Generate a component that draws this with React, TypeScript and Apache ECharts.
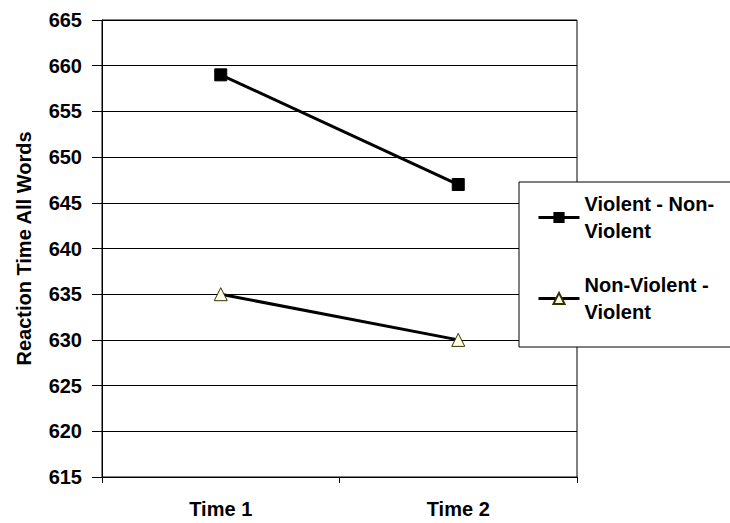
import React, { useEffect, useRef } from "react";
import * as echarts from "echarts";

const categories = ["Time 1", "Time 2"];
const seriesNames = ["Violent - Non-Violent", "Non-Violent - Violent"];
const violentNonViolent = [659, 647];
const nonViolentViolent = [635, 630];
const yMin = 615;
const yMax = 665;
const yInterval = 5;
const yAxisTitle = "Reaction Time All Words";
const legendLabels: Record<string, string> = {
  "Violent - Non-Violent": "Violent - Non-\nViolent",
  "Non-Violent - Violent": "Non-Violent -\nViolent",
};

const FONT = "'Liberation Sans', Arial, sans-serif";
const FS = 20;

export default function App() {
  const ref = useRef<HTMLDivElement>(null);
  useEffect(() => {
    if (!ref.current) return;
    const chart = echarts.init(ref.current, null, { renderer: "svg" });
    chart.setOption({
      animation: false,
      backgroundColor: "#ffffff",
      textStyle: { fontFamily: FONT },
      grid: {
        left: 102,
        right: 153,
        top: 20,
        bottom: 46,
        show: true,
        borderColor: "#000000",
        borderWidth: 1,
        backgroundColor: "transparent",
      },
      xAxis: {
        type: "category",
        data: categories,
        boundaryGap: true,
        axisLine: { lineStyle: { color: "#000000", width: 1 } },
        axisTick: { show: true, length: 6, inside: false, lineStyle: { color: "#000000" } },
        axisLabel: {
          color: "#000000",
          fontSize: FS,
          fontWeight: "bold",
          fontFamily: FONT,
          margin: 22,
        },
        splitLine: { show: false },
      },
      yAxis: {
        type: "value",
        min: yMin,
        max: yMax,
        interval: yInterval,
        name: yAxisTitle,
        nameLocation: "middle",
        nameGap: 68,
        nameTextStyle: {
          color: "#000000",
          fontSize: FS,
          fontWeight: "bold",
          fontFamily: FONT,
        },
        axisLine: { show: true, lineStyle: { color: "#000000", width: 1 } },
        axisTick: { show: true, length: 10, lineStyle: { color: "#000000" } },
        axisLabel: {
          color: "#000000",
          fontSize: FS,
          fontWeight: "bold",
          fontFamily: FONT,
          margin: 20,
        },
        splitLine: { show: true, lineStyle: { color: "#000000", width: 1 } },
      },
      legend: {
        orient: "vertical",
        left: 532,
        top: 172,
        itemWidth: 41,
        itemHeight: 14,
        itemGap: 0,
        z: 10,
        data: seriesNames,
        formatter: (name: string) => legendLabels[name] || name,
        lineStyle: { width: 3, color: "#000000" },
        textStyle: {
          color: "#000000",
          fontSize: FS,
          fontWeight: "bold",
          fontFamily: FONT,
          lineHeight: 27,
          padding: [27, 0, 0, 0],
        },
      },
      graphic: [
        {
          type: "rect",
          z: 5,
          shape: { x: 519, y: 182, width: 240, height: 165 },
          style: { fill: "#ffffff", stroke: "#000000", lineWidth: 1 },
        },
      ],
      series: [
        {
          name: seriesNames[0],
          type: "line",
          data: violentNonViolent,
          symbol: "rect",
          symbolSize: 12,
          lineStyle: { color: "#000000", width: 3 },
          itemStyle: { color: "#000000", borderColor: "#000000" },
        },
        {
          name: seriesNames[1],
          type: "line",
          data: nonViolentViolent,
          symbol: "triangle",
          symbolSize: 13,
          lineStyle: { color: "#000000", width: 3 },
          itemStyle: { color: "#FFFFE6", borderColor: "#333300", borderWidth: 1 },
        },
      ],
    });
    return () => chart.dispose();
  }, []);
  return <div ref={ref} style={{ width: 730, height: 523, position: "absolute", left: 0, top: 0 }} />;
}
